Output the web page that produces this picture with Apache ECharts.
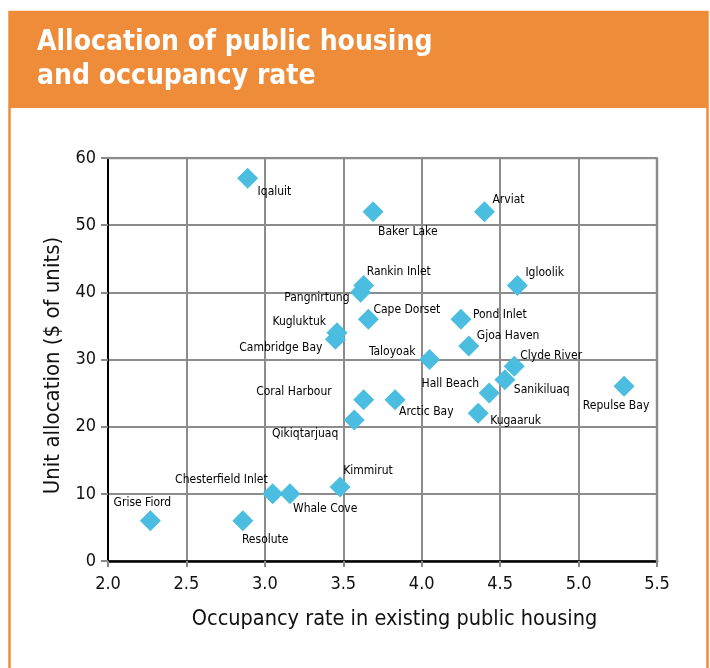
<!DOCTYPE html>
<html>
<head>
<meta charset="utf-8">
<script src="https://cdn.jsdelivr.net/npm/echarts@6/dist/echarts.min.js"></script>
<style>
  html, body { margin: 0; padding: 0; background: #fff; }
  #chart { width: 710px; height: 668px; }
</style>
</head>
<body>
<div id="chart"></div>
<script>
// communities, occupancy rate (x) and unit allocation (y)
var communities = ['Iqaluit', 'Baker Lake', 'Arviat', 'Rankin Inlet', 'Pangnirtung', 'Igloolik',
    'Cape Dorset', 'Pond Inlet', 'Kugluktuk', 'Cambridge Bay', 'Gjoa Haven', 'Taloyoak',
    'Clyde River', 'Sanikiluaq', 'Hall Beach', 'Repulse Bay', 'Coral Harbour', 'Arctic Bay',
    'Kugaaruk', 'Qikiqtarjuaq', 'Kimmirut', 'Chesterfield Inlet', 'Whale Cove', 'Grise Fiord', 'Resolute'];
var occupancy = [2.89, 3.69, 4.40, 3.63, 3.61, 4.61,
    3.66, 4.25, 3.46, 3.45, 4.30, 4.05,
    4.59, 4.53, 4.43, 5.29, 3.63, 3.83,
    4.36, 3.57, 3.48, 3.05, 3.16, 2.27, 2.86];
var allocation = [57, 52, 52, 41, 40, 41,
    36, 36, 34, 33, 32, 30,
    29, 27, 25, 26, 24, 24,
    22, 21, 11, 10, 10, 6, 6];

// label placement: [align, dx, dy] from the marker centre
var labelPlace = {
    'Iqaluit': ['left', 10, 14],
    'Baker Lake': ['left', 5, 20],
    'Arviat': ['left', 8, -12],
    'Rankin Inlet': ['left', 3, -14],
    'Pangnirtung': ['right', -11, 6],
    'Igloolik': ['left', 8, -13],
    'Cape Dorset': ['left', 5, -9],
    'Pond Inlet': ['left', 12, -4],
    'Kugluktuk': ['right', -11, -11],
    'Cambridge Bay': ['right', -13, 9],
    'Gjoa Haven': ['left', 8, -10],
    'Taloyoak': ['right', -14, -8],
    'Clyde River': ['left', 6, -10],
    'Sanikiluaq': ['left', 9, 10],
    'Hall Beach': ['right', -10, -9],
    'Repulse Bay': ['center', -8, 20],
    'Coral Harbour': ['right', -32, -8],
    'Arctic Bay': ['left', 4, 12],
    'Kugaaruk': ['left', 12, 8],
    'Qikiqtarjuaq': ['right', -16, 14],
    'Kimmirut': ['left', 3, -16],
    'Chesterfield Inlet': ['right', -5, -14],
    'Whale Cove': ['left', 3, 15],
    'Grise Fiord': ['center', -8, -18],
    'Resolute': ['left', -1, 19]
};

var points = communities.map(function (name, i) {
    var p = labelPlace[name];
    return {
        name: name,
        value: [occupancy[i], allocation[i]],
        label: { align: p[0], offset: [p[1], p[2]] }
    };
});

var chart = echarts.init(document.getElementById('chart'));
var font = '"DejaVu Sans Condensed", "DejaVu Sans", sans-serif';

var option = {
    animation: false,
    textStyle: { fontFamily: font },
    graphic: [
        {
            type: 'rect',
            shape: { x: 9, y: 12, width: 699, height: 96 },
            style: { fill: '#EE8C3A' },
            silent: true
        },
        {
            type: 'rect',
            shape: { x: 9.5, y: 12, width: 698, height: 660 },
            style: { fill: 'none', stroke: '#EE8C3A', lineWidth: 2.5 },
            silent: true
        },
        {
            type: 'text',
            left: 37,
            top: 26,
            style: {
                text: 'Allocation of public housing\nand occupancy rate',
                fill: '#fff',
                font: 'bold 28px ' + font,
                lineHeight: 34
            }
        }
    ],
    grid: { left: 108, right: 53, top: 158, bottom: 107 },
    xAxis: {
        type: 'value',
        min: 2,
        max: 5.5,
        interval: 0.5,
        name: 'Occupancy rate in existing public housing',
        nameLocation: 'middle',
        nameGap: 47,
        nameTextStyle: { color: '#111', fontSize: 21.5, padding: [0, 0, 0, 24] },
        axisLine: { show: true, lineStyle: { color: '#000', width: 2.5 } },
        axisTick: { show: true, length: 6, lineStyle: { color: '#888', width: 2 } },
        axisLabel: {
            color: '#111', fontSize: 18, margin: 14,
            formatter: function (v) { return v.toFixed(1); }
        },
        splitLine: { show: true, lineStyle: { color: '#8c8c8c', width: 2 } }
    },
    yAxis: {
        type: 'value',
        min: 0,
        max: 60,
        interval: 10,
        name: 'Unit allocation ($ of units)',
        nameLocation: 'middle',
        nameGap: 43,
        nameTextStyle: { color: '#111', fontSize: 22, padding: [0, 12, 0, 0] },
        axisLine: { show: true, lineStyle: { color: '#000', width: 2 } },
        axisTick: { show: true, length: 7, lineStyle: { color: '#888', width: 2 } },
        axisLabel: { color: '#111', fontSize: 18, margin: 12 },
        splitLine: { show: true, lineStyle: { color: '#8c8c8c', width: 2 } }
    },
    series: [
        {
            type: 'scatter',
            symbol: 'diamond',
            symbolSize: [21, 21],
            itemStyle: { color: '#4BBDE0', opacity: 1 },
            label: {
                show: true,
                position: 'inside',
                formatter: '{b}',
                color: '#000',
                fontSize: 12,
                fontFamily: font
            },
            data: points
        },
        {
            // top and right frame of the plot
            type: 'line',
            silent: true,
            symbol: 'none',
            lineStyle: { color: '#8c8c8c', width: 2.5 },
            data: [[2, 60], [5.5, 60], [5.5, 0]],
            z: 1
        }
    ]
};
chart.setOption(option);
</script>
</body>
</html>
